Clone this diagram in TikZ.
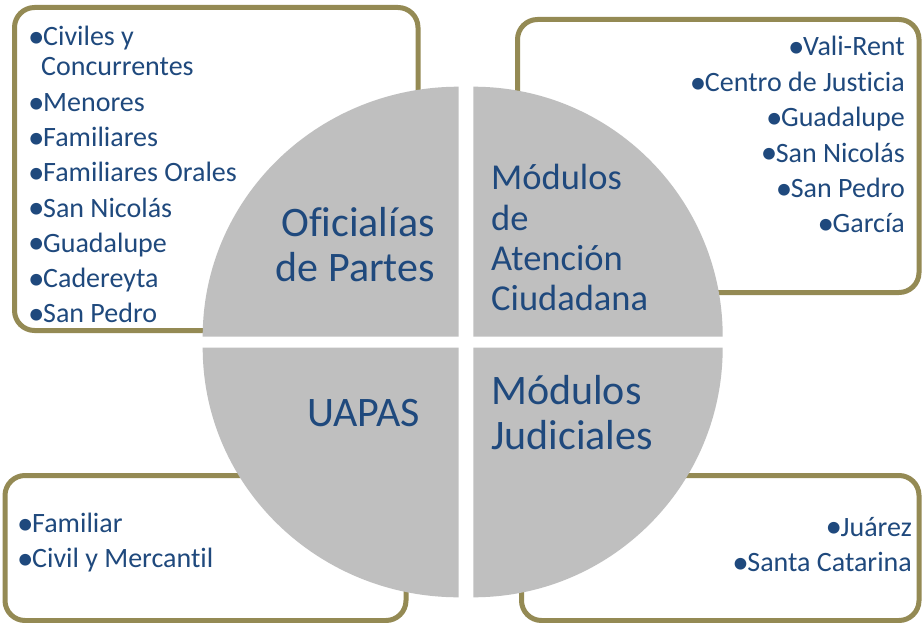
\documentclass[tikz,border=0pt]{standalone}
\usepackage{graphicx}
\usepackage{fontspec}
\setmainfont[Ligatures=NoCommon]{Carlito}
\definecolor{boxolive}{HTML}{948A54}
\definecolor{qgray}{HTML}{BFBFBF}
\definecolor{txtblue}{HTML}{1F497D}
\newcommand{\bul}{\makebox[14pt][l]{\hspace{-1pt}\smash{\raisebox{-1.8pt}{\scalebox{1.18}{•}}}}}
\begin{document}
\begin{tikzpicture}[x=1pt,y=-1pt,
  frame/.style={draw=boxolive, line width=5pt, rounded corners=20pt},
  quad/.style={fill=qgray},
  item/.style={text=txtblue, inner sep=0pt, font=\fontsize{28}{30}\selectfont},
  big/.style={text=txtblue, inner sep=0pt, font=\fontsize{42}{45}\selectfont},
  mid/.style={text=txtblue, inner sep=0pt, font=\fontsize{36.5}{40}\selectfont}]
\useasboundingbox (0,0) rectangle (923,623);
\fill[white] (0,0) rectangle (923,623);
% boxes
\draw[frame] (14.5,7.5) rectangle (418,330.5);
\draw[frame] (517.5,19.5) rectangle (919,292.5);
\draw[frame] (5,475.5) rectangle (406,620.5);
\draw[frame] (521.5,475.5) rectangle (919,620.5);
% quadrants
\fill[quad] (458.7,336.5) -- (202.7,336.5) arc[start angle=180,end angle=270,x radius=256,y radius=249.8] -- cycle;
\fill[quad] (473.3,336.5) -- (473.3,86.7) arc[start angle=270,end angle=360,x radius=249.4,y radius=249.8] -- cycle;
\fill[quad] (473.3,347.7) -- (722.7,347.7) arc[start angle=0,end angle=90,x radius=249.4,y radius=249.6] -- cycle;
\fill[quad] (458.7,347.7) -- (458.7,597.3) arc[start angle=90,end angle=180,x radius=256,y radius=249.6] -- cycle;
% top-left list
\node[item, anchor=base west] (tl1) at (29,46) {\bul Civiles y};
\node[item, anchor=base west] (tl1b) at (41,76) {Concurrentes};
\node[item, anchor=base west] (tl2) at (29,111.7) {\bul Menores};
\node[item, anchor=base west] (tl3) at (29,146.7) {\bul Familiares};
\node[item, anchor=base west] (tl4) at (29,181.7) {\bul Familiares Orales};
\node[item, anchor=base west] (tl5) at (29,217) {\bul San Nicolás};
\node[item, anchor=base west] (tl6) at (29,252) {\bul Guadalupe};
\node[item, anchor=base west] (tl7) at (29,287.3) {\bul Cadereyta};
\node[item, anchor=base west] (tl8) at (29,322.5) {\bul San Pedro};
% top-right list
\node[item, anchor=base east] (tr1) at (905,56) {\bul Vali-Rent};
\node[item, anchor=base east] (tr2) at (905,91.3) {\bul Centro de Justicia};
\node[item, anchor=base east] (tr3) at (905,126.6) {\bul Guadalupe};
\node[item, anchor=base east] (tr4) at (905,162) {\bul San Nicolás};
\node[item, anchor=base east] (tr5) at (905,197.2) {\bul San Pedro};
\node[item, anchor=base east] (tr6) at (905,232.5) {\bul García};
% bottom lists
\node[item, anchor=base west] (bl1) at (18,532.7) {\bul Familiar};
\node[item, anchor=base west] (bl2) at (18,567.3) {\bul Civil y Mercantil};
\node[item, anchor=base east] (br1) at (912,536) {\bul Juárez};
\node[item, anchor=base east] (br2) at (912,571.7) {\bul Santa Catarina};
% quadrant labels
\node[big, anchor=base east] (q1a) at (435,236.7) {Oficialías};
\node[big, anchor=base east] (q1b) at (435,281.7) {de Partes};
\node[mid, anchor=base west] (q2a) at (491,189) {Módulos};
\node[mid, anchor=base west] (q2b) at (491,230) {de};
\node[mid, anchor=base west] (q2c) at (491,270) {Atención};
\node[mid, anchor=base west] (q2d) at (491,310) {Ciudadana};
\node[big, anchor=base east] (q3) at (420,426) {UAPAS};
\node[big, anchor=base west] (q4a) at (491,404) {Módulos};
\node[big, anchor=base west] (q4b) at (491,449.3) {Judiciales};
\end{tikzpicture}
\end{document}
